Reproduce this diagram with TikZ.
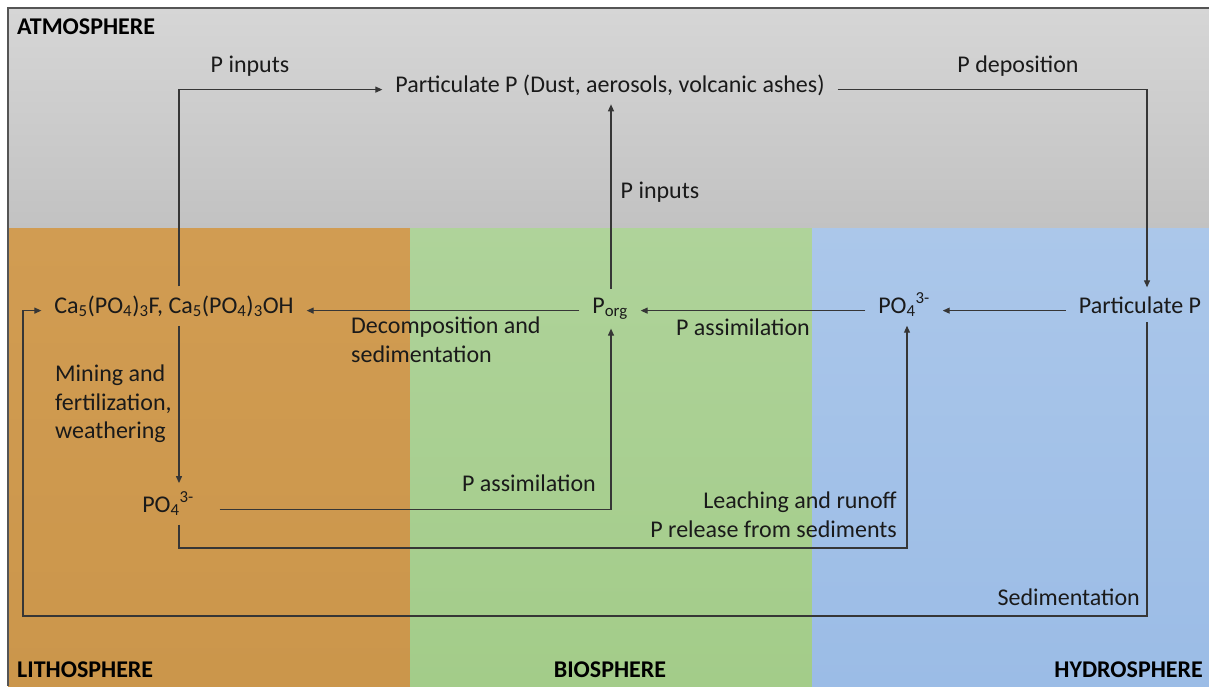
\documentclass[tikz,border=0pt]{standalone}
\usepackage{fontspec}
\setmainfont{Carlito}
\usetikzlibrary{arrows.meta}
\definecolor{atmtop}{HTML}{D6D6D6}
\definecolor{atmbot}{HTML}{C2C2C2}
\definecolor{lithotop}{HTML}{D19C52}
\definecolor{lithobot}{HTML}{CB964B}
\definecolor{biotop}{HTML}{AFD39A}
\definecolor{biobot}{HTML}{A3CC89}
\definecolor{hydrotop}{HTML}{ABC7EA}
\definecolor{hydrobot}{HTML}{9BBCE6}
\definecolor{ink}{HTML}{1A1A1A}
\definecolor{wirecol}{HTML}{363636}
\definecolor{framecol}{HTML}{555555}

\begin{document}
\begin{tikzpicture}[x=1pt,y=-1pt,
  txt/.style={font=\fontsize{24}{28.5}\selectfont, text=ink, inner sep=0pt},
  chem/.style={txt, outer xsep=13pt, outer ysep=9pt},
  sphere/.style={font=\fontsize{24}{28}\selectfont\bfseries, text=black, inner sep=0pt},
  flow/.style={draw=wirecol, line width=1.2pt, -{Triangle[length=7pt,width=6pt]}}]

\useasboundingbox (0,0) rectangle (1209,686);
\fill[white] (0,0) rectangle (1209,686);

% the four spheres
\shade[top color=atmtop,bottom color=atmbot] (8,8) rectangle (1209,228);
\shade[top color=lithotop,bottom color=lithobot] (8,228) rectangle (410,686);
\shade[top color=biotop,bottom color=biobot] (410,228) rectangle (812,686);
\shade[top color=hydrotop,bottom color=hydrobot] (812,228) rectangle (1209,686);
\draw[framecol, line width=2pt] (8,686) -- (8,8) -- (1209,8);

\node[sphere, anchor=base west] (atmo) at (17,34) {ATMOSPHERE};
\node[sphere, anchor=base west] (litho) at (17,677) {LITHOSPHERE};
\node[sphere, anchor=base] (bio) at (610,677) {BIOSPHERE};
\node[sphere, anchor=base east] (hydro) at (1203,677) {HYDROSPHERE};

% phosphorus pools
\node[chem, anchor=base] (ppatm) at (610,92) {Particulate P (Dust, aerosols, volcanic ashes)};
\node[chem, anchor=base] (ca) at (174,313) {Ca\textsubscript{5}(PO\textsubscript{4})\textsubscript{3}F, Ca\textsubscript{5}(PO\textsubscript{4})\textsubscript{3}OH};
\node[chem, anchor=base] (porg) at (610,313) {P\textsubscript{org}};
\node[chem, anchor=base] (po4h) at (904,313) {PO\textsubscript{4}\textsuperscript{3-}};
\node[chem, anchor=base] (ppr) at (1140,313) {Particulate P};
\node[chem, anchor=base, outer xsep=26pt] (po4l) at (168,512) {PO\textsubscript{4}\textsuperscript{3-}};

% process labels
\node[txt] (lin1) at (250,66) {P inputs};
\node[txt] (ldep) at (1018,66) {P deposition};
\node[txt] (lin2) at (660,192) {P inputs};
\node[txt, anchor=north west, align=left] (ldec) at (351,317) {Decomposition and\\sedimentation};
\node[txt] (lassim1) at (743,327) {P assimilation};
\node[txt, anchor=north west, align=left] (lmine) at (55,365) {Mining and\\fertilization,\\weathering};
\node[txt, anchor=east] (lassim2) at (596,483) {P assimilation};
\node[txt, anchor=north east, align=right] (lleach) at (897,492) {Leaching and runoff\\P release from sediments};
\node[txt, anchor=east] (lsed) at (1140,597) {Sedimentation};

% routing columns and rows
\coordinate (xca) at (179,0);
\coordinate (xrt) at (1147,0);
\coordinate (xlt) at (23,0);
\coordinate (xporg) at (611,0);
\coordinate (xpo4h) at (907,0);
\coordinate (ylow) at (0,548);
\coordinate (ybot) at (0,616);

% fluxes
\draw[flow] (ca.north -| xca) |- (ppatm.mid west);
\draw[flow] (ppatm.mid east) -| (xrt |- ppr.north);
\draw[flow] (xporg |- porg.north) -- (xporg |- ppatm.south);
\draw[flow] (ppr.mid west) -- (po4h.mid east);
\draw[flow] (po4h.mid west) -- (porg.mid east);
\draw[flow] (porg.mid west) -- (ca.mid east);
\draw[flow] (xca |- ca.south) -- (xca |- po4l.north);
\draw[flow] (po4l.mid east) -| (xporg |- porg.south);
\draw[flow] (xca |- po4l.south) |- (xpo4h |- ylow) -- (xpo4h |- po4h.south);
\draw[flow] (xrt |- ppr.south) |- (xlt |- ybot) |- (ca.mid west);
\end{tikzpicture}
\end{document}
